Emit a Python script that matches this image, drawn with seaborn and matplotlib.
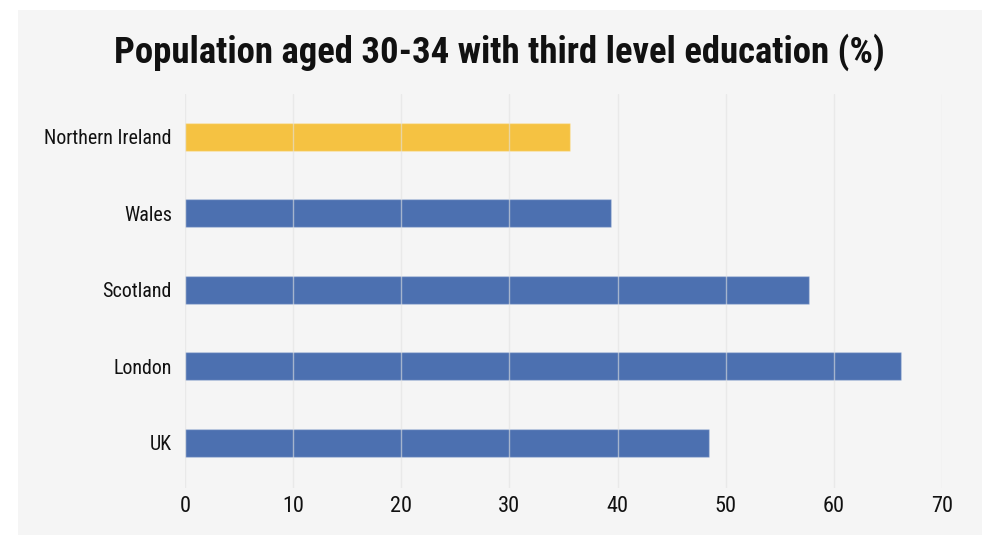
import pandas as pd
import numpy as np
import matplotlib.pyplot as plt
import seaborn as sb
from matplotlib.patches import Rectangle

regions = ["Northern Ireland", "Wales", "Scotland", "London", "UK"]
values = [35.6, 39.4, 57.7, 66.2, 48.5]
bar_colors = ["#F5C242", "#4C70B0", "#4C70B0", "#4C70B0", "#4C70B0"]
xticks = [0, 10, 20, 30, 40, 50, 60, 70]

df = pd.DataFrame({"Region": regions, "Value": values})

sb.set_style("white")
plt.rcParams['font.family'] = ['Liberation Sans Narrow', 'Roboto Condensed', 'DejaVu Sans']

fig = plt.figure(figsize=(9.98, 5.5), dpi=100, facecolor="white")
# grey panel behind everything
fig.patches.append(Rectangle((18/998, 1-535/550), (982-18)/998, (535-10)/550,
                             transform=fig.transFigure, facecolor="#f5f5f5",
                             edgecolor="none", zorder=-1))

ax = fig.add_axes([185/998, 1-488/550, (942-185)/998, (488-94)/550])
ax.set_zorder(1)
ax.set_facecolor("none")
sb.barplot(data=df, x="Value", y="Region", hue="Region", palette=bar_colors,
           legend=False, width=0.366, orient="h", ax=ax, saturation=1,
           edgecolor=(1, 1, 1, 0.25), linewidth=1)

ax.set_xlim(0, 70)
ax.set_ylim(4.59, -0.56)
ax.set_xticks(xticks)
ax.xaxis.grid(True, color="#e2e2e2", alpha=0.6, linewidth=1)
ax.set_axisbelow(False)
for s in ax.spines.values():
    s.set_visible(False)
ax.tick_params(axis="both", length=0, colors="#111111")
ax.tick_params(axis="x", pad=6, labelsize=16)
ax.tick_params(axis="y", pad=9.4, labelsize=14.4)
ax.set_xlabel("")
ax.set_ylabel("")

fig.text(0.5, 1-52/550, "Population aged 30-34 with third level education (%)",
         ha="center", va="center", fontsize=26.5, fontweight="bold", color="#111111")

fig.savefig("out.png", dpi=100, facecolor="white")
